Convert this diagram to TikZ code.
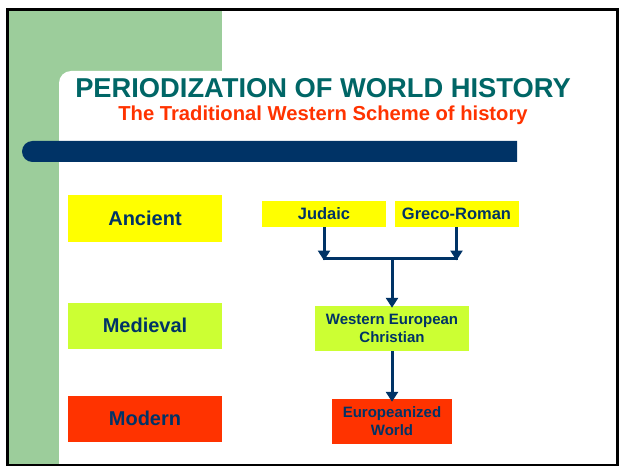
\documentclass[tikz,border=0pt]{standalone}
\usepackage{fontspec}
\setmainfont{Liberation Sans}
\usetikzlibrary{arrows.meta}

\definecolor{sidegreen}{RGB}{156,205,155}
\definecolor{barblue}{RGB}{0,51,102}
\definecolor{titleteal}{RGB}{0,102,102}
\definecolor{hotred}{RGB}{255,51,0}
\definecolor{ancientyellow}{RGB}{255,255,0}
\definecolor{medievallime}{RGB}{204,255,51}

\tikzset{
  era/.style={fill=#1, draw=none, minimum width=154pt, minimum height=46pt,
    inner sep=0pt, text=barblue, font=\fontsize{20}{22}\selectfont\bfseries},
  topbox/.style={fill=ancientyellow, draw=none, minimum height=26pt,
    inner sep=0pt, text=barblue, font=\fontsize{16.5}{18}\selectfont\bfseries},
  flowbox/.style={fill=#1, draw=none, inner sep=0pt, text=barblue, align=center,
    font=\fontsize{15}{18}\selectfont\bfseries},
  flow/.style={draw=barblue, line width=3pt,
    -{Triangle[width=12pt,length=10pt]}},
  joint/.style={draw=barblue, line width=3pt},
}

\begin{document}
\begin{tikzpicture}[x=1pt,y=-1pt]
  \useasboundingbox (0,0) rectangle (621,473);
  \fill[white] (0,0) rectangle (621,473);

  % green L-shaped margin with the rounded white sheet cut into it
  \fill[sidegreen] (8,10) rectangle (222,465);
  \fill[white] (222,465) -- (59,465) -- (59,83)
    .. controls (59,76.4) and (64.4,71) .. (71,71) -- (222,71) -- cycle;

  % frame
  \draw[line width=2.5pt] (7.5,9.5) rectangle (617.5,465);

  % titles
  \node[text=titleteal, font=\fontsize{27.3}{30}\selectfont\bfseries, anchor=base]
    (title) at (323,98) {PERIODIZATION OF WORLD HISTORY};
  \node[text=hotred, font=\fontsize{20.2}{22}\selectfont\bfseries, anchor=base]
    (subtitle) at (323,121) {The Traditional Western Scheme of history};

  % dark bar with a rounded left end
  \fill[barblue] (517,141) -- (32.5,141)
    .. controls (26.7,141) and (22,145.7) .. (22,151.5)
    .. controls (22,157.3) and (26.7,162) .. (32.5,162) -- (517,162) -- cycle;

  % eras
  \node[era=ancientyellow] (ancient) at (145,218.5) {Ancient};
  \node[era=medievallime] (medieval) at (145,325.5) {Medieval};
  \node[era=hotred] (modern) at (145,418.5) {Modern};

  % sources
  \node[topbox, minimum width=124pt] (judaic) at (324,214) {Judaic};
  \node[topbox, minimum width=124pt] (greco) at (456.5,214) {Greco-Roman};

  \node[flowbox=medievallime, minimum width=154pt, minimum height=45pt]
    (western) at (392,328.5) {Western European\\Christian};
  \node[flowbox=hotred, minimum width=120pt, minimum height=45pt]
    (europe) at (392,421.5) {Europeanized\\World};

  % junction below the two sources
  \coordinate (jl) at (324,258.5);
  \coordinate (jr) at (456.5,258.5);
  \coordinate (jm) at (392,258.5);

  \draw[flow] (judaic.south) -- ([yshift=-2pt]jl);
  \draw[flow] (greco.south) -- ([yshift=-2pt]jr);
  \draw[joint] ([xshift=-1.5pt]jl) -- ([xshift=1.5pt]jr);
  \draw[flow] (jm) -- ([yshift=-2pt]western.north);
  \draw[flow] (western.south) -- ([yshift=-3pt]europe.north);
\end{tikzpicture}
\end{document}
